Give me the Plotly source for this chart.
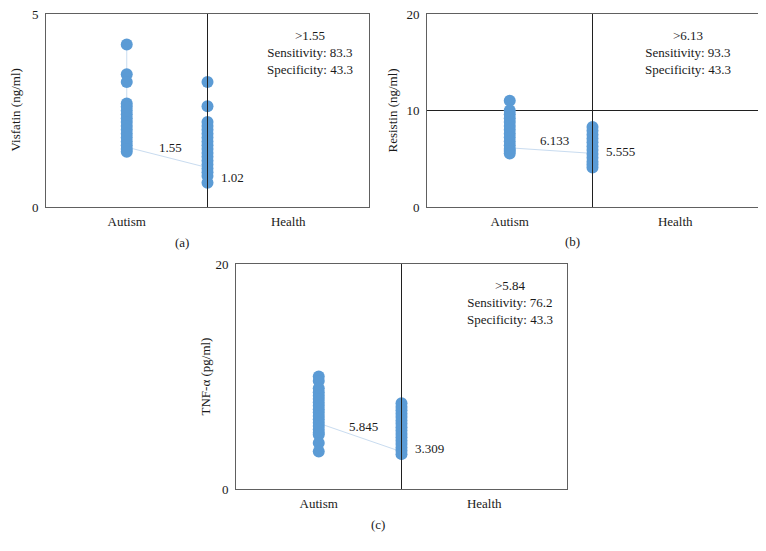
import plotly.graph_objects as go

# page body has a default 8px margin; figure sized to fit the 766x551 window
PAGE_W, PAGE_H = 766, 551
OFF = 8
W, H = PAGE_W - 2 * OFF, PAGE_H - 2 * OFF

categories = ["Autism", "Health"]

visfatin_autism = [4.21, 3.44, 3.24, 2.68, 2.6, 2.5, 2.4, 2.3, 2.2, 2.1, 2.0, 1.9, 1.8, 1.7, 1.6, 1.5, 1.43]
visfatin_health = [3.24, 2.61, 2.2, 2.1, 2.0, 1.9, 1.8, 1.7, 1.6, 1.5, 1.4, 1.3, 1.2, 1.1, 1.0, 0.9, 0.8, 0.63]
resistin_autism = [11.0, 10.0, 9.6, 9.2, 8.8, 8.4, 8.0, 7.6, 7.2, 6.8, 6.4, 6.0, 5.8, 5.54]
resistin_health = [8.3, 7.9, 7.5, 7.1, 6.7, 6.3, 5.9, 5.5, 5.1, 4.7, 4.4, 4.09]
tnf_autism = [10.0, 9.6, 8.96, 8.6, 8.3, 8.0, 7.7, 7.4, 7.1, 6.8, 6.5, 6.2, 5.9, 5.6, 5.3, 5.0, 4.82, 4.08, 3.34]
tnf_health = [7.63, 7.3, 7.0, 6.7, 6.4, 6.1, 5.8, 5.5, 5.2, 4.9, 4.6, 4.3, 4.0, 3.7, 3.4, 3.1]

cutoffs = [(1.55, 1.02), (6.133, 5.555), (5.845, 3.309)]
cut_labels = [("1.55", "1.02"), ("6.133", "5.555"), ("5.845", "3.309")]
info_texts = [">1.55<br>Sensitivity: 83.3<br>Specificity: 43.3",
              ">6.13<br>Sensitivity: 93.3<br>Specificity: 43.3",
              ">5.84<br>Sensitivity: 76.2<br>Specificity: 43.3"]
y_titles = ["Visfatin (ng/ml)", "Resistin (ng/ml)", "TNF-α (pg/ml)"]
panel_tags = ["(a)", "(b)", "(c)"]
y_ranges = [(0, 5), (0, 20), (0, 20)]
y_dticks = [5, 10, 20]

series = [(visfatin_autism, visfatin_health),
          (resistin_autism, resistin_health),
          (tnf_autism, tnf_health)]

FONT = "Liberation Serif"
BLUE = "#5B9BD5"
FAINT = "#C9DCF0"
TXT = "#1a1a1a"

def px(x):
    return (x - OFF) / W

def py(y):
    return min(1.0, max(0.0, 1 - (y - OFF) / H))

# plot-area boxes in page pixels: (left, top, right, bottom)
boxes = [(46, 14, 369, 207), (427, 14, 758, 207), (236, 264, 567, 489)]
title_x = [15, 392, 205]
tag_pos = [(182, 243), (572, 241), (378, 524)]
info_x = [310, 688, 510]
cut_yshift = [0, 7, -3]
health_yshift = [-10, 2, 3]

fig = go.Figure()
annotations = []
shapes = []
x_pos = {"Autism": 0.5, "Health": 1.0}

for i in range(3):
    sfx = "" if i == 0 else str(i + 1)
    xa, ya = "x" + sfx, "y" + sfx
    aut, hea = series[i]
    ca, ch = cutoffs[i]
    # faint connecting line
    fig.add_trace(go.Scatter(
        x=[x_pos["Autism"], x_pos["Autism"], x_pos["Health"]],
        y=[max(aut), ca, ch], mode="lines",
        line=dict(color=FAINT, width=1), xaxis=xa, yaxis=ya,
        showlegend=False, hoverinfo="skip"))
    fig.add_trace(go.Scatter(
        x=[x_pos["Autism"]] * len(aut) + [x_pos["Health"]] * len(hea),
        y=aut + hea, mode="markers",
        marker=dict(color=BLUE, size=12, line=dict(width=0)),
        xaxis=xa, yaxis=ya, showlegend=False))

    l, t, r, b = boxes[i]
    layout_x = dict(domain=[px(l), px(r)], range=[0, 2], tickvals=[0.5, 1.5],
                    ticktext=categories, showgrid=False, zeroline=False,
                    showline=True, mirror=True, linecolor="#606060", linewidth=1,
                    ticks="", ticklabelstandoff=2, automargin=False,
                    ticklabeloverflow="allow",
                    tickfont=dict(family=FONT, size=13, color=TXT),
                    anchor=ya, fixedrange=True)
    layout_y = dict(domain=[py(b), py(t)], range=list(y_ranges[i]), dtick=y_dticks[i],
                    tick0=0, showgrid=True, gridcolor="#202020", gridwidth=1,
                    zeroline=False, showline=True, mirror=True, linecolor="#606060",
                    linewidth=1, ticks="", ticklabelstandoff=4, automargin=False,
                    ticklabeloverflow="allow",
                    tickfont=dict(family=FONT, size=13, color=TXT),
                    anchor=xa, fixedrange=True)
    fig.update_layout(**{"xaxis" + sfx: layout_x, "yaxis" + sfx: layout_y})

    # vertical divider between categories
    shapes.append(dict(type="line", xref=xa, yref=ya, x0=1, x1=1,
                       y0=y_ranges[i][0], y1=y_ranges[i][1],
                       line=dict(color="#202020", width=1)))

    # cutoff labels
    annotations.append(dict(x=0.77, y=ca, xref=xa, yref=ya, text=cut_labels[i][0],
                            showarrow=False, yshift=cut_yshift[i],
                            font=dict(family=FONT, size=13, color=TXT)))
    annotations.append(dict(x=x_pos["Health"], y=ch, xref=xa, yref=ya,
                            text=cut_labels[i][1], showarrow=False, xanchor="left",
                            xshift=11, yshift=health_yshift[i],
                            font=dict(family=FONT, size=13, color=TXT)))
    # info text
    annotations.append(dict(x=px(info_x[i]), y=py(t + 12), xref="paper", yref="paper",
                            text=info_texts[i], showarrow=False, xanchor="center",
                            yanchor="top", align="center",
                            font=dict(family=FONT, size=13, color=TXT)))
    # y title
    annotations.append(dict(x=px(title_x[i]), y=py((t + b) / 2), xref="paper", yref="paper",
                            text=y_titles[i], textangle=-90, showarrow=False,
                            xanchor="center", yanchor="middle",
                            font=dict(family=FONT, size=13, color=TXT)))
    # panel tag
    annotations.append(dict(x=px(tag_pos[i][0]), y=py(tag_pos[i][1]), xref="paper",
                            yref="paper", text=panel_tags[i], showarrow=False,
                            xanchor="center", yanchor="middle",
                            font=dict(family=FONT, size=13, color=TXT)))

fig.update_layout(width=W, height=H,
                  margin=dict(l=0, r=0, t=0, b=0, autoexpand=False),
                  paper_bgcolor="white", plot_bgcolor="white",
                  annotations=annotations, shapes=shapes, showlegend=False)

fig.write_html("out.html")
